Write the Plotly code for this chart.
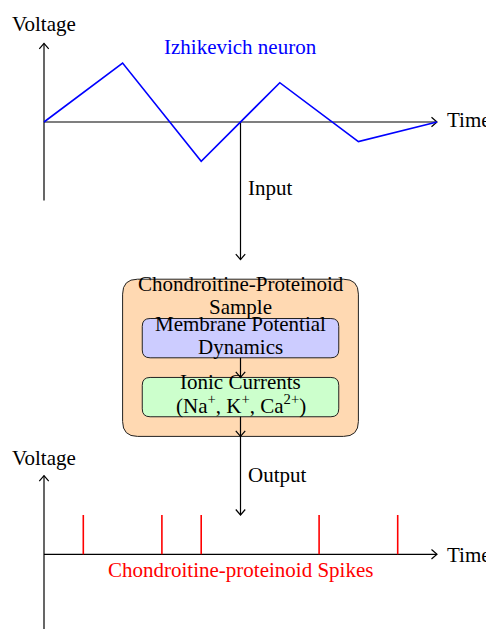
import plotly.graph_objects as go

# ---------------- data ----------------
izh_time = [0, 2, 4, 5, 6, 8, 10]
izh_voltage = [0, 1.5, -1, 0, 1, -0.5, 0]
spike_times = [1, 3, 4, 7, 9]
spike_height = [1, 1, 1, 1, 1]

# ---------------- layout constants (diagram units) ----------------
PAGE_OFF = 8            # browser body margin
W, H = 494 - PAGE_OFF, 629 - PAGE_OFF
S = 39.3                # px per unit
X0, Y0 = 44, 122        # page pixel of the top origin
xr = [(PAGE_OFF - X0) / S, (494 - X0) / S]
yr = [(Y0 - 629) / S, (Y0 - PAGE_OFF) / S]

FONT = "Liberation Serif"
FS = 21
AH_L, AH_W = 0.14, 0.12  # arrowhead length / half width

fig = go.Figure()

segs_x, segs_y = [], []


def arrow(x0, y0, x1, y1):
    segs_x.extend([x0, x1, None])
    segs_y.extend([y0, y1, None])
    dx, dy = x1 - x0, y1 - y0
    n = (dx * dx + dy * dy) ** 0.5
    ux, uy = dx / n, dy / n
    px, py = -uy, ux
    bx, by = x1 - ux * AH_L, y1 - uy * AH_L
    segs_x.extend([bx + px * AH_W, x1, bx - px * AH_W, None])
    segs_y.extend([by + py * AH_W, y1, by - py * AH_W, None])


def rrect(x0, y0, x1, y1, r):
    return (f"M {x0+r},{y0} L {x1-r},{y0} Q {x1},{y0} {x1},{y0+r} "
            f"L {x1},{y1-r} Q {x1},{y1} {x1-r},{y1} L {x0+r},{y1} "
            f"Q {x0},{y1} {x0},{y1-r} L {x0},{y0+r} Q {x0},{y0} {x0+r},{y0} Z")


# boxes
fig.add_shape(type="path", path=rrect(2, -8, 8, -4, 0.38), xref="x", yref="y",
              fillcolor="#FFD9B2", line=dict(color="#222", width=1), layer="below")
fig.add_shape(type="path", path=rrect(2.5, -6, 7.5, -5, 0.2), xref="x", yref="y",
              fillcolor="#CCCCFF", line=dict(color="#222", width=1), layer="below")
fig.add_shape(type="path", path=rrect(2.5, -7.5, 7.5, -6.5, 0.2), xref="x", yref="y",
              fillcolor="#CCFFCC", line=dict(color="#222", width=1), layer="below")

# axes / arrows
arrow(0, 0, 10, 0)
arrow(0, -2, 0, 2)
arrow(5, 0, 5, -3.5)
arrow(5, -6, 5, -6.5)
arrow(5, -7.5, 5, -8)
arrow(5, -8, 5, -10)
arrow(0, -11, 10, -11)
arrow(0, -13, 0, -9)

fig.add_trace(go.Scatter(x=segs_x, y=segs_y, mode="lines",
                         line=dict(color="black", width=1.2), hoverinfo="skip"))

# Izhikevich trace
fig.add_trace(go.Scatter(x=izh_time, y=izh_voltage, mode="lines",
                         line=dict(color="blue", width=1.6), hoverinfo="skip"))

# spikes
sx, sy = [], []
for t, h in zip(spike_times, spike_height):
    sx.extend([t, t, None])
    sy.extend([-11, -11 + h, None])
fig.add_trace(go.Scatter(x=sx, y=sy, mode="lines",
                         line=dict(color="red", width=1.6), hoverinfo="skip"))


def text(x, y, s, color="black", xanchor="center", yanchor="middle"):
    fig.add_annotation(x=x, y=y, text=s, showarrow=False, xanchor=xanchor,
                       yanchor=yanchor, font=dict(family=FONT, size=FS, color=color))


text(0, 2.49, "Voltage")
text(5, 1.91, "Izhikevich neuron", color="blue")
text(10.2, 0.05, "Time", xanchor="left")
text(5.15, -1.68, "Input", xanchor="left")
text(5, -4.13, "Chondroitine-Proteinoid")
text(5, -4.71, "Sample")
text(5, -5.14, "Membrane Potential")
text(5, -5.73, "Dynamics")
text(5, -6.62, "Ionic Currents")
text(5, -7.2, "(Na<sup>+</sup>, K<sup>+</sup>, Ca<sup>2+</sup>)")
text(5.15, -8.98, "Output", xanchor="left")
text(0, -8.55, "Voltage")
text(10.2, -11.02, "Time", xanchor="left")
text(5, -11.40, "Chondroitine-proteinoid Spikes", color="red")

fig.update_layout(
    width=W, height=H, margin=dict(l=0, r=0, t=0, b=0),
    paper_bgcolor="white", plot_bgcolor="white", showlegend=False,
    xaxis=dict(range=xr, visible=False, fixedrange=True),
    yaxis=dict(range=yr, visible=False, fixedrange=True),
)

fig.write_html("out.html")
